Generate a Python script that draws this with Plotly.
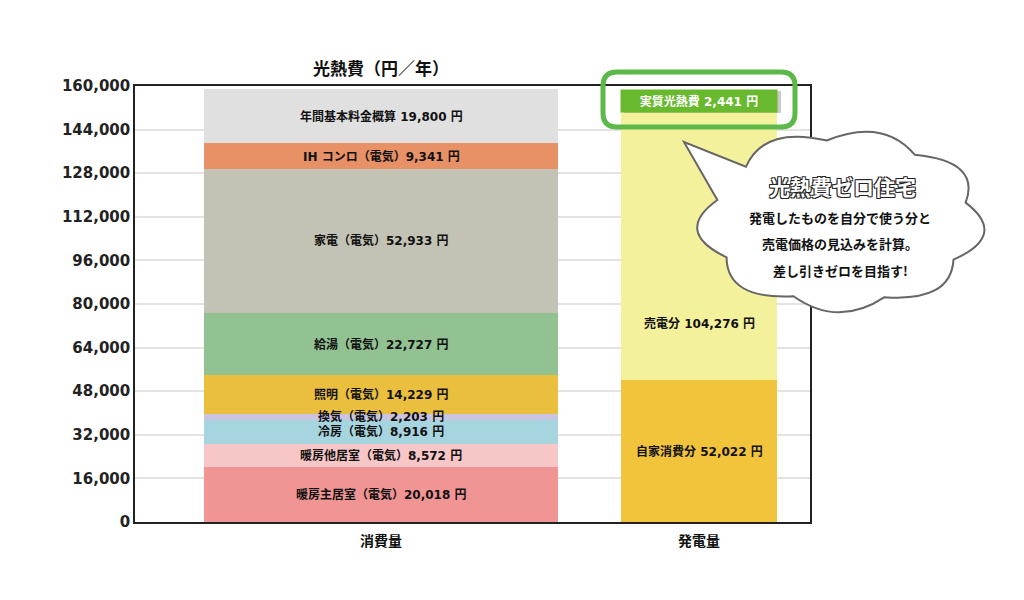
import numpy as np
import plotly.graph_objects as go

# data
categories = ["消費量", "発電量"]

use_names = ["暖房主居室（電気）", "暖房他居室（電気）", "冷房（電気）", "換気（電気）",
             "照明（電気）", "給湯（電気）", "家電（電気）", "IH コンロ（電気）", "年間基本料金概算"]
use_values = [20018, 8572, 8916, 2203, 14229, 22727, 52933, 9341, 19800]
use_colors = ["#F09494", "#F7C6C7", "#A6D4DF", "#C9C4E0", "#EBBF3E",
              "#92C192", "#C2C3B4", "#E89066", "#E0E0E0"]

gen_names = ["自家消費分", "売電分"]
gen_values = [52022, 104276]
gen_colors = ["#F2C43B", "#F4F19C"]

net_label = "実質光熱費"
net_value = 2441

y_ticks = list(range(0, 160001, 16000))

# plot area in reference pixels (page body has an 8px margin)
L, R, T, B = 135, 810, 86, 522
W, H = 1008, 584
def px(x):
    return (x - L) / (R - L)
def py(y):
    return (B - y) / (B - T)

LBL = dict(family="DejaVu Sans, Noto Sans CJK JP", size=12, color="#111", weight="bold")

fig = go.Figure()

for name, v, c in zip(use_names, use_values, use_colors):
    fig.add_trace(go.Bar(x=[categories[0]], y=[v], width=1.113, marker_color=c,
                         marker_line_width=0, name=name, hoverinfo="skip"))
for name, v, c in zip(gen_names, gen_values, gen_colors):
    fig.add_trace(go.Bar(x=[categories[1]], y=[v], width=0.49, marker_color=c,
                         marker_line_width=0, name=name, hoverinfo="skip"))

annotations = []
cum = np.cumsum([0] + use_values)
for i, (name, v) in enumerate(zip(use_names, use_values)):
    annotations.append(dict(x=categories[0], y=(cum[i] + cum[i + 1]) / 2, xref="x", yref="y",
                            text=f"{name}{v:,} 円" if name.endswith("）") else f"{name} {v:,} 円",
                            showarrow=False, font=LBL))
annotations.append(dict(x=categories[1], y=gen_values[0] / 2, xref="x", yref="y",
                        text=f"{gen_names[0]} {gen_values[0]:,} 円", showarrow=False, font=LBL))
annotations.append(dict(x=categories[1], y=gen_values[0] + gen_values[1] * 0.2, xref="x", yref="y",
                        text=f"{gen_names[1]} {gen_values[1]:,} 円", showarrow=False, font=LBL))

# net cost label on top of the generation bar
total = float(sum(use_values))
annotations.append(dict(
    x=categories[1], y=total, xref="x", yref="y", yanchor="top",
    text=f"{net_label} {net_value:,} 円", showarrow=False,
    width=156, height=22, borderpad=0, bgcolor="#68B92E",
    font=dict(family="DejaVu Sans, Noto Sans CJK JP", size=12, weight="bold", color="white")))

# title
annotations.append(dict(x=categories[0], y=py(68), xref="x", yref="paper", showarrow=False,
                        xanchor="center", yanchor="middle",
                        text="光熱費（円／年）",
                        font=dict(family="Noto Sans CJK JP", size=17, weight="bold", color="#111")))

# cloud text
annotations.append(dict(x=px(842), y=py(186), xref="paper", yref="paper", showarrow=False,
                        xanchor="center", yanchor="middle",
                        text="光熱費ゼロ住宅",
                        font=dict(family="Noto Sans CJK JP", size=21, color="white", weight="bold",
                                  shadow="-1px -1px 0 #222, 1px -1px 0 #222, -1px 1px 0 #222, 1px 1px 0 #222")))
for txt, yy in [("発電したものを自分で使う分と", 217), ("売電価格の見込みを計算。", 243),
                ("差し引きゼロを目指す!", 270)]:
    annotations.append(dict(x=px(840), y=py(yy), xref="paper", yref="paper", showarrow=False,
                            xanchor="center", yanchor="middle",
                            text=txt, font=dict(family="Noto Sans CJK JP", size=13,
                                                weight="bold", color="#111")))

# cloud bubble path
cx, cy, rx, ry = 841, 221, 128, 81
def ell(t, k=1.0):
    return cx + k * rx * np.cos(t), cy + k * ry * np.sin(t)
ta, tb = np.radians(195), np.radians(222)
tip = (684, 142)
ax_, ay_ = ell(ta)
path = f"M{px(ax_)},{py(ay_)} L{px(tip[0])},{py(tip[1])} "
bx_, by_ = ell(tb)
path += f"L{px(bx_)},{py(by_)} "
n = 8
angles = np.linspace(tb, ta + 2 * np.pi, n + 1)
for a0, a1 in zip(angles[:-1], angles[1:]):
    qx, qy = ell((a0 + a1) / 2, 1.32)
    ex, ey = ell(a1)
    path += f"Q{px(qx)},{py(qy)} {px(ex)},{py(ey)} "
path += "Z"

# rounded green frame
x0, x1, y0, y1, r = 603, 795, 72, 127, 14
rr = (f"M{px(x0 + r)},{py(y0)} L{px(x1 - r)},{py(y0)} Q{px(x1)},{py(y0)} {px(x1)},{py(y0 + r)} "
      f"L{px(x1)},{py(y1 - r)} Q{px(x1)},{py(y1)} {px(x1 - r)},{py(y1)} "
      f"L{px(x0 + r)},{py(y1)} Q{px(x0)},{py(y1)} {px(x0)},{py(y1 - r)} "
      f"L{px(x0)},{py(y0 + r)} Q{px(x0)},{py(y0)} {px(x0 + r)},{py(y0)} Z")

fig.update_layout(
    width=W, height=H,
    margin=dict(l=L - 8, r=W - (R - 8), t=T - 8, b=H - (B - 8)),
    barmode="stack", showlegend=False,
    paper_bgcolor="white", plot_bgcolor="white",
    annotations=annotations,
    shapes=[
        # soft shadow under the green label
        dict(type="rect", xref="paper", yref="paper", x0=px(624), x1=px(781), y0=py(113), y1=py(91),
             fillcolor="rgba(80,80,80,0.3)", line_width=0),
        dict(type="path", path=path, xref="paper", yref="paper", layer="above",
             fillcolor="white", line=dict(color="#666", width=2)),
        dict(type="path", path=rr, xref="paper", yref="paper",
             line=dict(color="#5CB848", width=5)),
    ],
    xaxis=dict(range=[-0.774, 1.349], showline=True, mirror=True, linecolor="#222", linewidth=1.5,
               showgrid=False, ticks="", ticklabelstandoff=5,
               tickfont=dict(family="Noto Sans CJK JP", size=14, weight="bold", color="#111")),
    yaxis=dict(range=[0, 160000], tickvals=y_ticks, ticktext=[f"{v:,}" for v in y_ticks],
               showline=True, mirror=True, linecolor="#222", linewidth=1.5,
               gridcolor="#E3E3E3", gridwidth=2, zeroline=False, ticks="",
               tickfont=dict(family="DejaVu Sans", size=15, color="#222", weight="bold")),
)

fig.write_html("out.html")
